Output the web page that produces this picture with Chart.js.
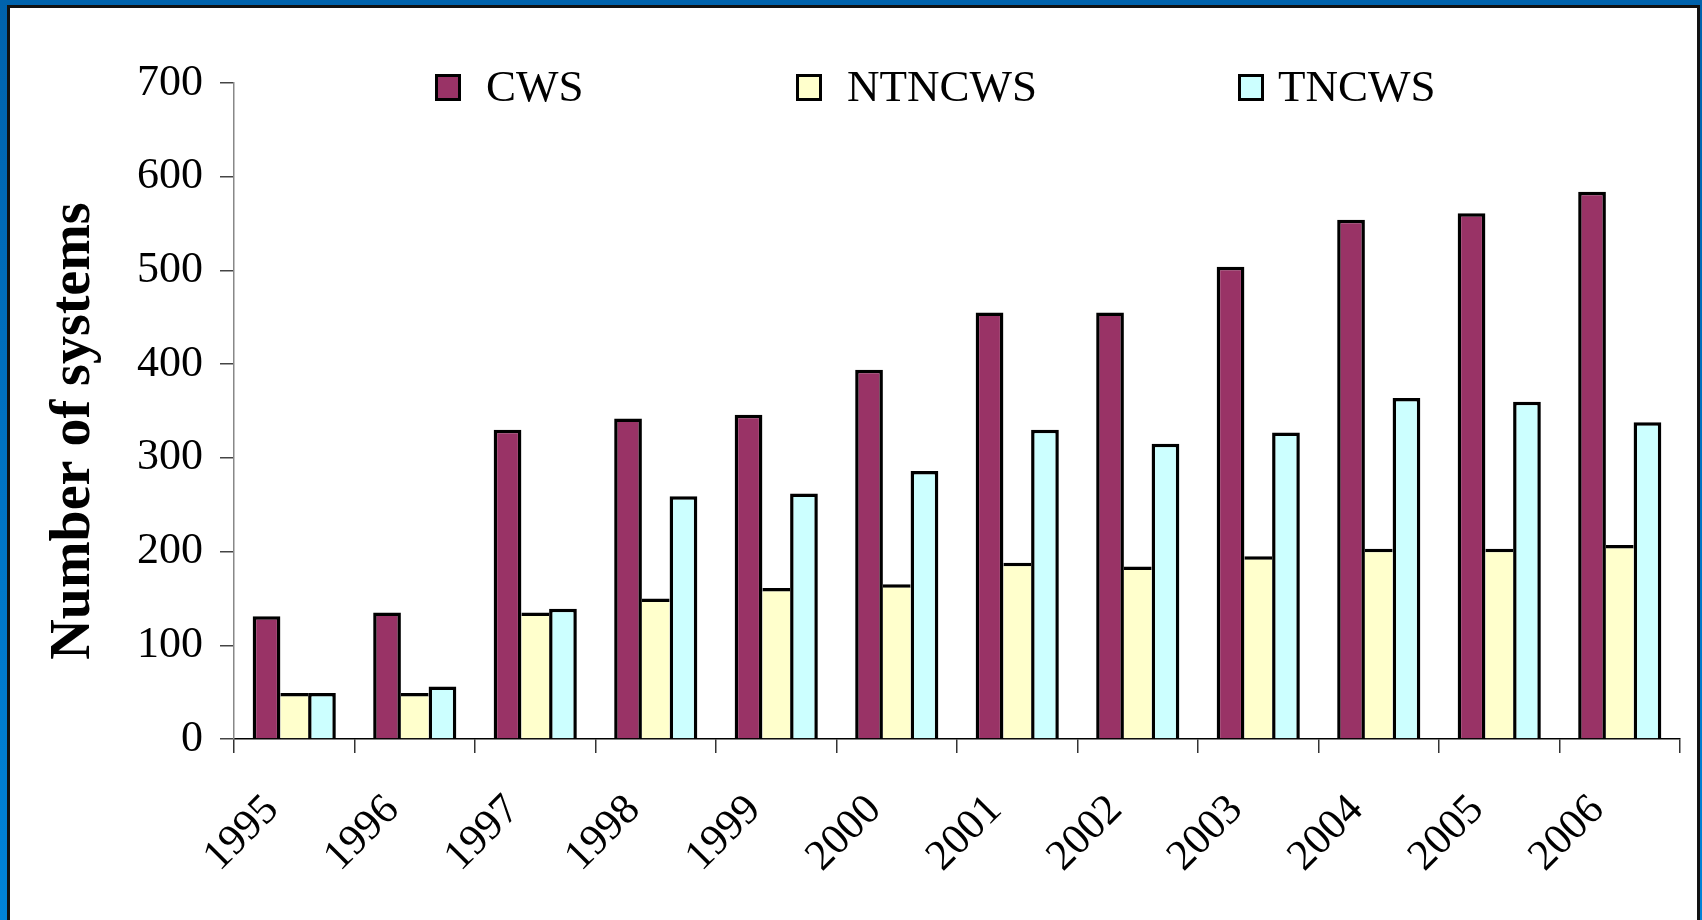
<!DOCTYPE html>
<html>
<head>
<meta charset="utf-8">
<script src="https://cdn.jsdelivr.net/npm/chart.js@4.4.1/dist/chart.umd.min.js"></script>
<style>
  html, body { margin: 0; padding: 0; background: #fff; }
  #frame  { position: relative; width: 1702px; height: 920px; overflow: hidden;
            background: linear-gradient(to bottom, #0062ac, #0083d8); }
  #panel  { position: absolute; left: 7px; top: 5px; right: 2px; height: 940px;
            box-sizing: border-box; background: #fff;
            border: 3px solid #111; border-bottom: none; }
  #chart  { position: absolute; left: 0; top: 0; }
</style>
</head>
<body>
<div id="frame">
  <div id="panel"></div>
  <canvas id="chart" width="1702" height="920"></canvas>
</div>
<script>
// ── DATA ──────────────────────────────────────────────────────────
const years   = ["1995","1996","1997","1998","1999","2000","2001","2002","2003","2004","2005","2006"];
const cws     = [131, 135, 330, 342, 346, 394, 455, 455, 504, 554, 561, 584];
const ntncws  = [49, 49, 135, 150, 161, 165, 188, 184, 195, 203, 203, 207];
const tncws   = [49, 56, 139, 259, 262, 286, 330, 315, 327, 364, 360, 338];
const yTicks  = [0, 100, 200, 300, 400, 500, 600, 700];
const yTitle  = "Number of systems";

const SERIF = "'Liberation Serif', 'Times New Roman', serif";

// Legend + axis title drawn by hand so they can sit inside the plot like the original
const overlayPlugin = {
  id: "overlay",
  afterDraw(chart) {
    const ctx = chart.ctx;
    const boxX  = [435, 796, 1238];
    const textX = [486, 847, 1278];
    ctx.save();
    ctx.font = "45px " + SERIF;
    ctx.textBaseline = "middle";
    chart.data.datasets.forEach((ds, i) => {
      ctx.fillStyle = ds.backgroundColor;
      ctx.fillRect(boxX[i], 74, 26, 27);
      ctx.lineWidth = 3;
      ctx.strokeStyle = "#000";
      ctx.strokeRect(boxX[i] + 1.5, 75.5, 23, 24);
      ctx.fillStyle = "#000";
      ctx.fillText(ds.label, textX[i], 89);
    });

    // y axis title
    ctx.translate(75, 431);
    ctx.rotate(-Math.PI / 2);
    ctx.font = "bold 56px " + SERIF;
    ctx.textAlign = "center";
    ctx.fillText(yTitle, 0, 0);
    ctx.restore();
  }
};

const edge = { top: 3.5, left: 3.5, right: 3.5, bottom: 0 };

new Chart(document.getElementById("chart"), {
  type: "bar",
  data: {
    labels: years,
    datasets: [
      { label: "CWS",    data: cws,    backgroundColor: "#993366", borderColor: "#000", borderWidth: edge },
      // middle bar: neighbours are always at least as tall, so they supply the side edges
      { label: "NTNCWS", data: ntncws, backgroundColor: "#ffffcc", borderColor: "#000", borderWidth: { top: 3.5, left: 0, right: 0, bottom: 0 } },
      { label: "TNCWS",  data: tncws,  backgroundColor: "#ccffff", borderColor: "#000", borderWidth: edge },
    ]
  },
  options: {
    responsive: false,
    animation: false,
    layout: { padding: { left: 0, top: 83, right: 22, bottom: 0 } },
    datasets: { bar: { categoryPercentage: 0.69, barPercentage: 1.0, borderSkipped: false } },
    plugins: { legend: { display: false }, tooltip: { enabled: false } },
    scales: {
      x: {
        grid:   { offset: true, drawOnChartArea: false, tickLength: 14, color: "#333", lineWidth: 1.5 },
        border: { color: "#000", width: 1.5 },
        ticks:  { color: "#000", font: { family: SERIF, size: 43 }, minRotation: 45, maxRotation: 45,
                  labelOffset: -22, padding: 32, autoSkip: false },
        afterFit: s => { s.height = 181; }
      },
      y: {
        min: yTicks[0],
        max: yTicks[yTicks.length - 1],
        afterBuildTicks: s => { s.ticks = yTicks.map(v => ({ value: v })); },
        grid:   { drawOnChartArea: false, tickLength: 14, color: "#444", lineWidth: 1.5 },
        border: { color: "#888", width: 1.5 },
        ticks:  { color: "#000", font: { family: SERIF, size: 44 }, padding: 17 },
        afterFit: s => { s.width = 234; }
      }
    }
  },
  plugins: [overlayPlugin]
});
</script>
</body>
</html>
